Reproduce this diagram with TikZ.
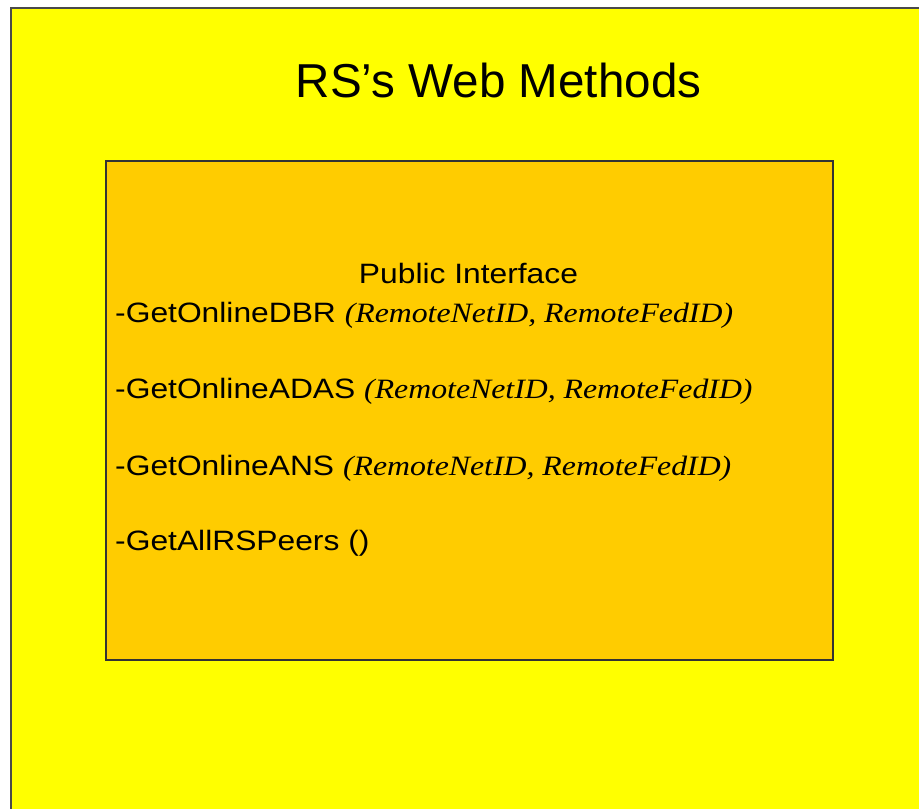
\documentclass[tikz,border=0pt]{standalone}
\usepackage{fontspec}
\setmainfont{Liberation Serif}
\setsansfont{Liberation Sans}
\definecolor{panelyellow}{HTML}{FFFF00}
\definecolor{boxorange}{HTML}{FFCC00}
\definecolor{edgegray}{HTML}{4A4A4A}
\newcommand\argfont{\rmfamily\itshape\fontsize{28}{34}\selectfont}
% interface text is set slightly wide
\newcommand\wide[1]{\scalebox{1.135}[1]{#1}}
\begin{document}
\begin{tikzpicture}[x=1pt,y=-1pt,
  panel/.style={fill=panelyellow,draw=edgegray,line width=2pt},
  ifacebox/.style={fill=boxorange,draw=black!80,line width=2pt},
  titletext/.style={font=\sffamily\fontsize{47.6}{56}\selectfont,inner sep=0pt,anchor=base},
  headtext/.style={font=\sffamily\fontsize{28}{34}\selectfont,inner sep=0pt,anchor=base},
  methodtext/.style={font=\sffamily\fontsize{28}{34}\selectfont,inner sep=0pt,anchor=base west}]
\useasboundingbox (0,0) rectangle (919,809);
% outer panel, running off the right and bottom edges
\draw[panel] (10.5,8) rectangle (935,830);
\node[titletext] (title) at (498.5,97) {RS’s Web Methods};
% public interface box
\draw[ifacebox] (106,161) rectangle (833,660);
\node[headtext] (head) at (468.5,283) {\wide{Public Interface}};
\node[methodtext] (m1) at (115,322) {\wide{-GetOnlineDBR {\argfont (RemoteNetID, RemoteFedID)}}};
\node[methodtext] (m2) at (115,398) {\wide{-GetOnlineADAS {\argfont (RemoteNetID, RemoteFedID)}}};
\node[methodtext] (m3) at (115,475) {\wide{-GetOnlineANS {\argfont (RemoteNetID, RemoteFedID)}}};
\node[methodtext] (m4) at (115,550) {\wide{-GetAllRSPeers ()}};
\end{tikzpicture}
\end{document}
